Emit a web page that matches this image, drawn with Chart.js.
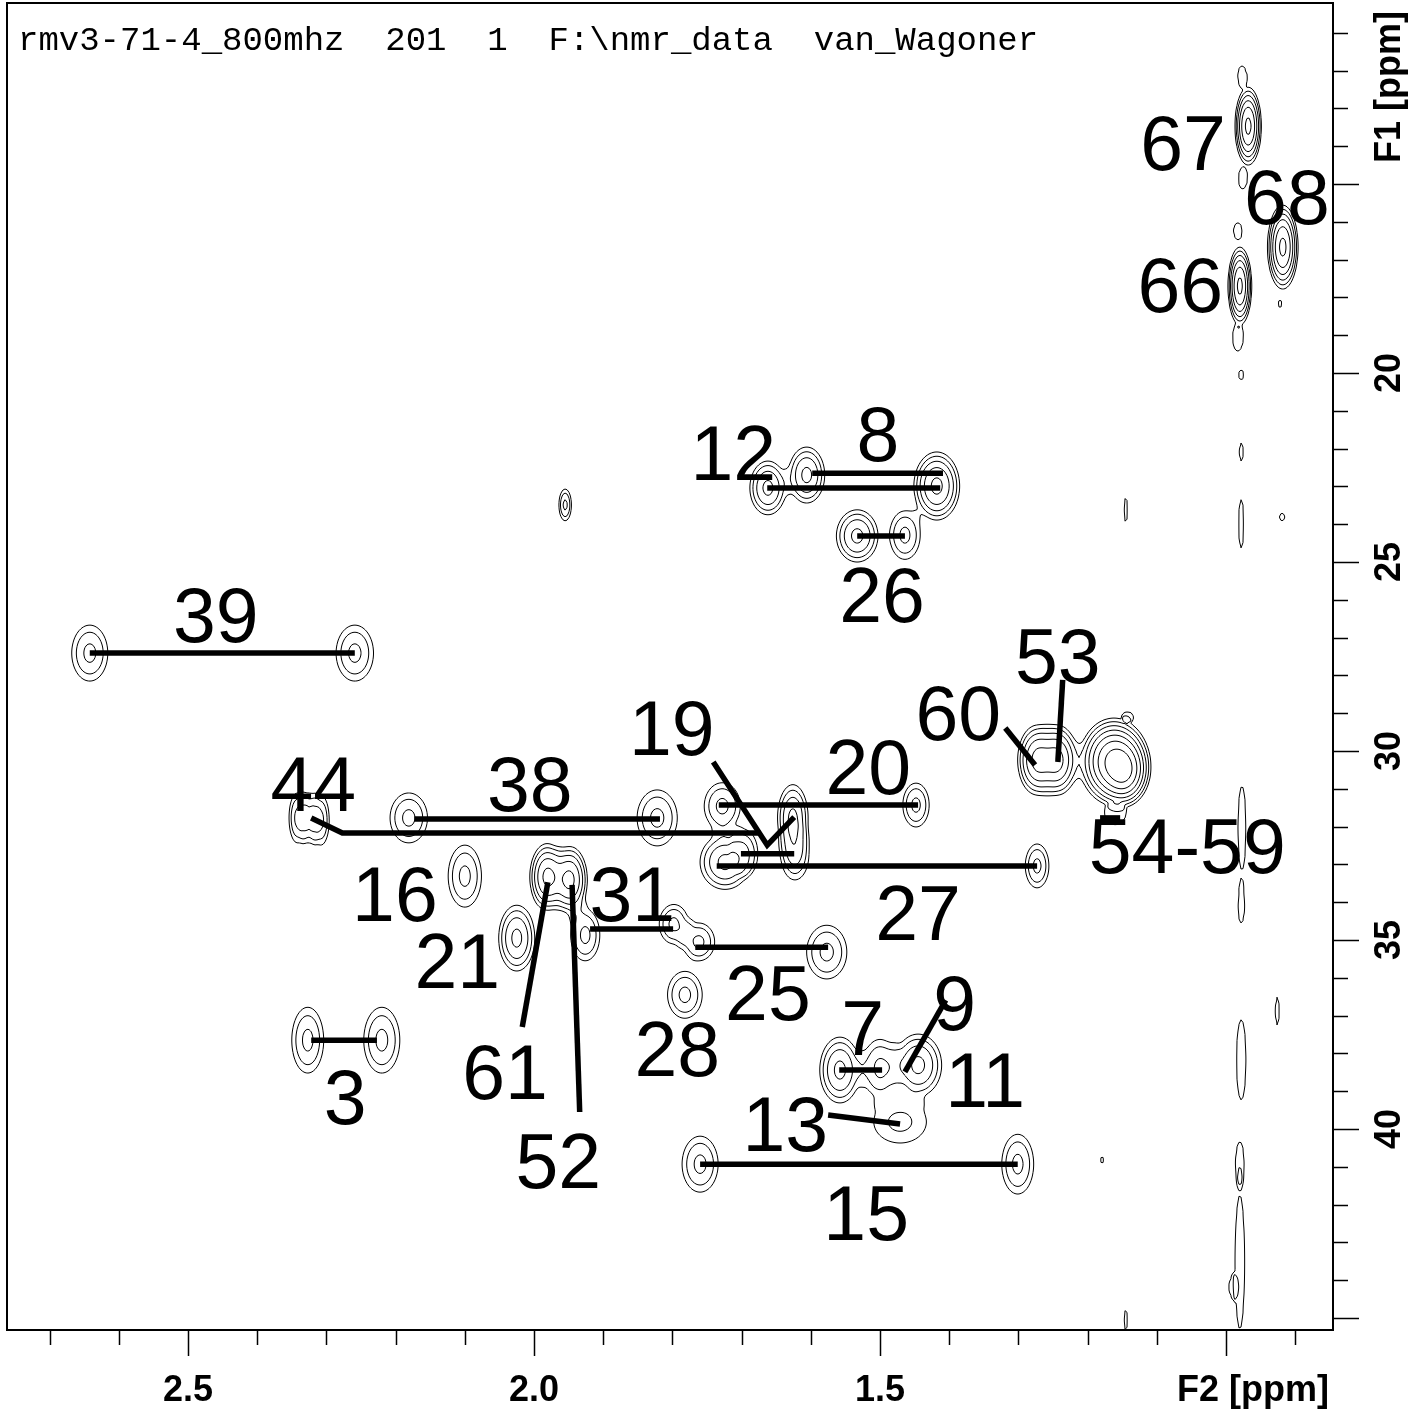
<!DOCTYPE html>
<html>
<head>
<meta charset="utf-8">
<script src="https://cdn.jsdelivr.net/npm/chart.js@4/dist/chart.umd.min.js"></script>
<style>
  html, body { margin: 0; padding: 0; background: #fff; }
  #wrap { width: 1416px; height: 1411px; position: relative; }
</style>
</head>
<body>
<div id="wrap"><canvas id="c"></canvas></div>
<script>
// ---- spectrum header ----
const headerText = 'rmv3-71-4_800mhz  201  1  F:\\nmr_data  van_Wagoner';

// ---- axis ranges (ppm); both axes run high-to-low ----
const f2Range = [0.8454, 2.7616];
const f1Range = [10.212, 45.317];

// ---- tick marks ----
const f2MinorTicks = [0.9, 1.0, 1.1, 1.2, 1.3, 1.4, 1.5, 1.6, 1.7, 1.8, 1.9, 2.0, 2.1, 2.2, 2.3, 2.4, 2.5, 2.6, 2.7];
const f2MajorTicks = [1.0, 1.5, 2.0, 2.5];
const f2TickValues = [1.5, 2.0, 2.5];
const f2TickLabels = ['1.5', '2.0', '2.5'];
const f1MinorTicks = [11, 12, 13, 14, 15, 16, 17, 18, 19, 20, 21, 22, 23, 24, 25, 26, 27, 28, 29, 30,
                      31, 32, 33, 34, 35, 36, 37, 38, 39, 40, 41, 42, 43, 44, 45];
const f1MajorTicks = [15, 20, 25, 30, 35, 40, 45];
const f1TickValues = [20, 25, 30, 35, 40];
const f1TickLabels = ['20', '25', '30', '35', '40'];
const f2Title = 'F2 [ppm]';
const f1Title = 'F1 [ppm]';

// ---- cross peaks: centre (F2, F1), outer contour half-width (ppm), number of contour levels ----
const peakF2 = [
  0.968, 0.977, 0.976, 0.918, 0.980, 0.983, 0.983, 0.978, 0.922,
  0.978, 0.978, 0.919, 0.977, 0.978, 0.926, 0.978, 0.980, 0.980, 0.990,
  1.145, 1.145, 1.179, 1.142,
  1.273, 1.243,
  1.162, 1.146, 1.160,
  1.662, 1.606, 1.418, 1.533, 1.464,
  1.955,
  2.642, 2.259,
  2.342, 2.325, 2.308,
  2.181, 1.822,
  1.728, 1.724, 1.695, 1.626, 1.623, 1.448, 1.273,
  2.100,
  1.981, 1.948, 1.926, 1.798, 1.762, 1.577,
  2.025, 1.782,
  2.327, 2.220,
  1.558, 1.500, 1.445, 1.471,
  1.760, 1.301
];
const peakF1 = [
  13.47, 12.12, 14.89, 16.67, 17.70, 16.22, 19.13, 20.05, 18.17,
  22.09, 23.99, 23.81, 32.04, 34.10, 36.88, 38.17, 40.82, 43.52, 44.18,
  23.62, 45.05, 40.82, 29.10,
  30.24, 30.24,
  30.28, 30.55, 31.69,
  23.04, 22.70, 22.99, 24.31, 24.29,
  23.49,
  27.41, 27.41,
  31.77, 31.77, 31.83,
  31.77, 31.77,
  31.46, 32.94, 32.62, 31.77, 32.75, 31.43, 33.04,
  33.31,
  33.33, 33.41, 34.87, 34.58, 35.05, 35.32,
  34.95, 36.45,
  37.65, 37.65,
  38.44, 38.39, 38.31, 39.81,
  40.93, 40.93
];
const peakWidthF2 = [
  0.019, 0.006, 0.006, 0.022, 0.017, 0.006, 0.007, 0.004, 0.003,
  0.003, 0.004, 0.004, 0.006, 0.005, 0.003, 0.007, 0.006, 0.007, 0.006,
  0.003, 0.003, 0.003, 0.006,
  0.028, 0.028,
  0.050, 0.032, 0.012,
  0.026, 0.026, 0.033, 0.030, 0.022,
  0.009,
  0.026, 0.027,
  0.012, 0.012, 0.012,
  0.027, 0.029,
  0.026, 0.036, 0.016, 0.022, 0.020, 0.019, 0.017,
  0.024,
  0.025, 0.025, 0.021, 0.021, 0.023, 0.029,
  0.026, 0.025,
  0.023, 0.026,
  0.029, 0.025, 0.034, 0.038,
  0.026, 0.023
];
const peakWidthF1 = [
  1.03, 0.24, 0.24, 1.11, 1.03, 0.19, 0.29, 0.13, 0.08,
  0.24, 0.64, 0.10, 1.11, 0.45, 0.37, 1.06, 0.48, 1.77, 0.26,
  0.32, 0.26, 0.08, 0.11,
  0.92, 0.92,
  1.15, 0.82, 0.24,
  0.71, 0.74, 0.90, 0.69, 0.64,
  0.42,
  0.74, 0.74,
  0.66, 0.66, 0.66,
  0.66, 0.74,
  0.62, 0.72, 0.50, 0.88, 0.66, 0.58, 0.58,
  0.82,
  0.88, 0.88, 0.68, 0.52, 0.50, 0.71,
  0.87, 0.62,
  0.87, 0.87,
  0.87, 0.76, 0.82, 0.56,
  0.74, 0.79
];
const peakLevels = [
  6, 1, 1, 6, 6, 1, 1, 1, 1,
  1, 1, 1, 1, 1, 1, 1, 1, 1, 1,
  1, 1, 1, 1,
  5, 5,
  7, 6, 1,
  4, 4, 5, 4, 3,
  3,
  3, 3,
  3, 3, 3,
  3, 3,
  3, 4, 2, 4, 3, 3, 3,
  3,
  5, 5, 3, 3, 3, 3,
  4, 3,
  3, 3,
  4, 3, 4, 2,
  3, 3
];
const levelRatio = 1.6;
const levelCount = 10;

// ---- assignment connectors (F2 / F1 of each vertex) ----
const connectorF2 = [
  [2.642, 2.259],            // 39
  [2.173, 1.818],            // 38
  [2.322, 2.277, 1.673],     // 44
  [1.663, 1.413],            // 12
  [1.598, 1.409],            // 8
  [1.533, 1.464],            // 26
  [1.319, 1.276],            // 60
  [1.236, 1.243],            // 53
  [1.741, 1.663, 1.624],     // 19
  [1.733, 1.445],            // 20
  [1.701, 1.624],            // 19
  [1.736, 1.273],            // 27
  [1.919, 1.799],            // 31
  [1.767, 1.575],            // 25
  [1.980, 2.017],            // 61
  [1.945, 1.934],            // 52
  [2.322, 2.227],            // 3
  [1.559, 1.497],            // 7
  [1.405, 1.464],            // 9
  [1.575, 1.471],            // 13
  [1.760, 1.301],            // 15
  [1.182, 1.153]             // 54-59
];
const connectorF1 = [
  [27.41, 27.41],
  [31.80, 31.80],
  [31.77, 32.17, 32.17],
  [23.04, 23.04],
  [22.65, 22.65],
  [24.31, 24.31],
  [29.39, 30.37],
  [28.12, 30.29],
  [30.29, 32.49, 31.75],
  [31.43, 31.43],
  [32.72, 32.72],
  [33.04, 33.04],
  [34.71, 34.71],
  [35.19, 35.19],
  [33.47, 37.30],
  [33.54, 39.55],
  [37.65, 37.65],
  [38.44, 38.44],
  [36.59, 38.49],
  [39.63, 39.87],
  [40.93, 40.93],
  [31.77, 31.77]
];

// ---- assignment labels ----
const labelText = ['67', '68', '66', '12', '8', '26', '39', '53', '60', '19', '20', '44', '38', '54-59',
                   '16', '31', '27', '21', '25', '7', '9', '28', '61', '11', '3', '13', '52', '15'];
const labelF2 = [1.062, 0.912, 1.066, 1.712, 1.503, 1.497, 2.460, 1.243, 1.387, 1.801, 1.517, 2.319, 2.006, 1.056,
                 2.201, 1.858, 1.445, 2.111, 1.662, 1.525, 1.392, 1.793, 2.042, 1.348, 2.273, 1.637, 1.965, 1.520];
const labelF1 = [13.89, 15.34, 17.67, 22.09, 21.59, 25.85, 26.38, 27.46, 28.97, 29.37, 30.42, 30.85, 30.85, 32.51,
                 33.76, 33.76, 34.26, 35.53, 36.40, 37.30, 36.64, 37.86, 38.49, 38.70, 39.15, 39.84, 40.82, 42.22];

const SANS = '"Liberation Sans", Arial, Helvetica, sans-serif';

// Contour map: each peak is a Gaussian whose outer contour sits at its half-width;
// tails are tapered to zero so isolated peaks stay separate. Traced with marching squares.
const contourPlugin = {
  id: 'contourMap',
  beforeDatasetsDraw(chart) {
    const { ctx, chartArea: a, scales: { x, y } } = chart;
    const step = 2;
    const uIn = 1.15, uOut = 1.75;
    const nx = Math.ceil((a.right - a.left) / step) + 1;
    const ny = Math.ceil((a.bottom - a.top) / step) + 1;
    const gx = new Float64Array(nx), gy = new Float64Array(ny);
    for (let i = 0; i < nx; i++) gx[i] = x.getValueForPixel(a.left + i * step);
    for (let j = 0; j < ny; j++) gy[j] = y.getValueForPixel(a.top + j * step);
    const field = new Float32Array(nx * ny);
    const lnR = Math.log(levelRatio);

    for (let p = 0; p < peakF2.length; p++) {
      const lnA = (peakLevels[p] - 0.75) * lnR;
      const cx = peakF2[p], cy = peakF1[p];
      const wx = peakWidthF2[p], wy = peakWidthF1[p];
      const px = x.getPixelForValue(cx), py = y.getPixelForValue(cy);
      const rx = Math.abs(x.getPixelForValue(cx + uOut * wx) - px) + step;
      const ry = Math.abs(y.getPixelForValue(cy + uOut * wy) - py) + step;
      const i0 = Math.max(0, Math.floor((px - rx - a.left) / step));
      const i1 = Math.min(nx - 1, Math.ceil((px + rx - a.left) / step));
      const j0 = Math.max(0, Math.floor((py - ry - a.top) / step));
      const j1 = Math.min(ny - 1, Math.ceil((py + ry - a.top) / step));
      for (let j = j0; j <= j1; j++) {
        const dy = (gy[j] - cy) / wy;
        const ey = dy * dy;
        for (let i = i0; i <= i1; i++) {
          const dx = (gx[i] - cx) / wx;
          const u2 = dx * dx + ey;
          const u = Math.sqrt(u2);
          if (u >= uOut) continue;
          let s = 1;
          if (u > uIn) {
            const t = (u - uIn) / (uOut - uIn);
            s = 1 - t * t * (3 - 2 * t);
          }
          field[j * nx + i] += s * Math.exp(lnA * (1 - u2));
        }
      }
    }

    ctx.save();
    ctx.beginPath();
    ctx.rect(a.left, a.top, a.right - a.left, a.bottom - a.top);
    ctx.clip();
    ctx.strokeStyle = '#000';
    ctx.lineWidth = 1;
    ctx.lineJoin = 'round';

    for (let l = 0; l < levelCount; l++) {
      const L = Math.pow(levelRatio, l);
      ctx.beginPath();
      for (let j = 0; j < ny - 1; j++) {
        const y0 = a.top + j * step, y1 = y0 + step;
        for (let i = 0; i < nx - 1; i++) {
          const v00 = field[j * nx + i], v10 = field[j * nx + i + 1];
          const v01 = field[(j + 1) * nx + i], v11 = field[(j + 1) * nx + i + 1];
          const c = (v00 > L ? 1 : 0) | (v10 > L ? 2 : 0) | (v11 > L ? 4 : 0) | (v01 > L ? 8 : 0);
          if (c === 0 || c === 15) continue;
          const x0 = a.left + i * step;
          const e = (edge) => {
            let t;
            switch (edge) {
              case 0: t = (L - v00) / (v10 - v00); return [x0 + t * step, y0];
              case 1: t = (L - v10) / (v11 - v10); return [x0 + step, y0 + t * step];
              case 2: t = (L - v01) / (v11 - v01); return [x0 + t * step, y1];
              default: t = (L - v00) / (v01 - v00); return [x0, y0 + t * step];
            }
          };
          const seg = (ea, eb) => {
            const p = e(ea), q = e(eb);
            ctx.moveTo(p[0], p[1]);
            ctx.lineTo(q[0], q[1]);
          };
          switch (c) {
            case 1: case 14: seg(3, 0); break;
            case 2: case 13: seg(0, 1); break;
            case 3: case 12: seg(3, 1); break;
            case 4: case 11: seg(1, 2); break;
            case 6: case 9: seg(0, 2); break;
            case 7: case 8: seg(3, 2); break;
            case 5: seg(3, 0); seg(1, 2); break;
            case 10: seg(0, 1); seg(2, 3); break;
          }
        }
      }
      ctx.stroke();
    }
    ctx.restore();
  }
};

// Frame, ticks, tick labels, axis titles, header and assignment numbers
const decorPlugin = {
  id: 'decor',
  afterDraw(chart) {
    const { ctx, chartArea: a, scales: { x, y } } = chart;
    ctx.save();
    ctx.strokeStyle = '#000';
    ctx.fillStyle = '#000';

    // frame
    ctx.lineWidth = 2;
    ctx.strokeRect(a.left, a.top, a.right - a.left, a.bottom - a.top);

    // bottom ticks
    ctx.lineWidth = 1.5;
    ctx.beginPath();
    f2MinorTicks.forEach(v => {
      const px = Math.round(x.getPixelForValue(v)) + 0.5;
      const len = f2MajorTicks.includes(v) ? 26 : 15;
      ctx.moveTo(px, a.bottom); ctx.lineTo(px, a.bottom + len);
    });
    // right ticks
    f1MinorTicks.forEach(v => {
      const py = Math.round(y.getPixelForValue(v)) + 0.5;
      const len = f1MajorTicks.includes(v) ? 26 : 15;
      ctx.moveTo(a.right, py); ctx.lineTo(a.right + len, py);
    });
    ctx.stroke();

    // tick labels
    ctx.font = 'bold 36px ' + SANS;
    ctx.textBaseline = 'alphabetic';
    ctx.textAlign = 'center';
    f2TickValues.forEach((v, i) => {
      ctx.fillText(f2TickLabels[i], x.getPixelForValue(v), 1401);
    });
    ctx.textAlign = 'right';
    ctx.fillText(f2Title, a.right - 4, 1401);

    f1TickValues.forEach((v, i) => {
      ctx.save();
      ctx.translate(1400, y.getPixelForValue(v));
      ctx.rotate(-Math.PI / 2);
      ctx.textAlign = 'center';
      ctx.fillText(f1TickLabels[i], 0, 0);
      ctx.restore();
    });
    ctx.save();
    ctx.translate(1400, a.top + 8);
    ctx.rotate(-Math.PI / 2);
    ctx.textAlign = 'right';
    ctx.fillText(f1Title, 0, 0);
    ctx.restore();

    // header line
    ctx.font = '34px "Liberation Mono", "Courier New", monospace';
    ctx.textAlign = 'left';
    ctx.fillText(headerText, 18, 50);

    // assignment numbers
    const size = 77;
    ctx.font = size + 'px ' + SANS;
    ctx.textAlign = 'center';
    labelText.forEach((t, i) => {
      ctx.fillText(t, x.getPixelForValue(labelF2[i]), y.getPixelForValue(labelF1[i]) + 0.358 * size);
    });
    ctx.restore();
  }
};

const datasets = connectorF2.map((xs, k) => ({
  data: xs.map((v, i) => ({ x: v, y: connectorF1[k][i] })),
  showLine: true,
  borderColor: '#000',
  borderWidth: 5.5,
  borderCapStyle: 'butt',
  borderJoinStyle: 'miter',
  pointRadius: 0,
  fill: false
}));

new Chart(document.getElementById('c'), {
  type: 'scatter',
  data: { datasets },
  options: {
    responsive: true,
    maintainAspectRatio: false,
    animation: false,
    layout: { padding: { left: 7, top: 3, right: 83, bottom: 81 } },
    plugins: { legend: { display: false }, tooltip: { enabled: false } },
    scales: {
      x: { type: 'linear', reverse: true, min: f2Range[0], max: f2Range[1], display: false },
      y: { type: 'linear', reverse: true, min: f1Range[0], max: f1Range[1], display: false }
    }
  },
  plugins: [contourPlugin, decorPlugin]
});
</script>
</body>
</html>
